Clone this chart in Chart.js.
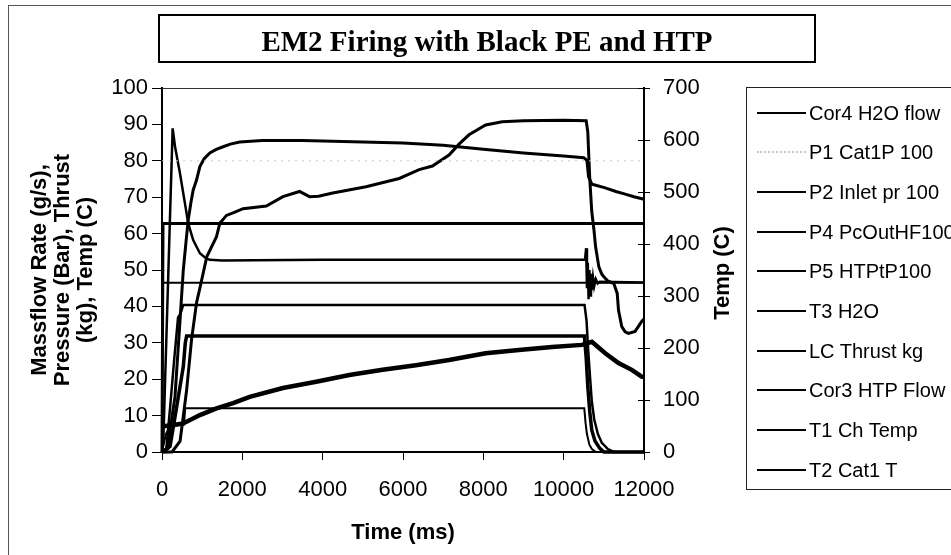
<!DOCTYPE html>
<html>
<head>
<meta charset="utf-8">
<title>EM2 Firing with Black PE and HTP</title>
<script src="https://cdn.jsdelivr.net/npm/chart.js@4.4.1/dist/chart.umd.min.js"></script>
<style>
  body { margin: 0; background: #fff; overflow: hidden; }
  #wrap { position: relative; width: 951px; height: 555px; overflow: hidden; font-family: 'Liberation Sans', Arial, sans-serif; color: #000; }
  #frame { position: absolute; left: 8px; top: 5px; width: 1200px; height: 800px; border: 1px solid #555; }
  #chart { position: absolute; left: 0; top: 0; }
  #title { position: absolute; left: 158px; top: 14px; width: 658px; height: 49px; box-sizing: border-box; border: 2px solid #000;
           font: bold 29px 'Liberation Serif', 'Times New Roman', serif; text-align: center; line-height: 50px; }
  #rightTitle { position: absolute; left: 622px; top: 260px; width: 200px; height: 26px; line-height: 26px; text-align: center;
                font-weight: bold; font-size: 22px; transform: rotate(-90deg); }
  #legend { position: absolute; left: 746px; top: 87px; width: 260px; height: 403px; box-sizing: border-box; border: 1px solid #222; background: #fff; }
  .row { position: absolute; left: 0; width: 250px; height: 26px; }
  .sample { position: absolute; left: 10px; top: 12px; width: 49px; height: 0; }
  .name { position: absolute; left: 62px; top: 0; line-height: 26px; font-size: 20px; white-space: nowrap; }
</style>
</head>
<body>
<div id="wrap">
  <div id="frame"></div>
  <canvas id="chart" width="951" height="555"></canvas>
  <div id="title">EM2 Firing with Black PE and HTP</div>
  <div id="rightTitle">Temp (C)</div>
  <div id="legend"></div>
</div>
<script>
// tick values
const timeTicks = [0, 2000, 4000, 6000, 8000, 10000, 12000];
const leftTicks = [0, 10, 20, 30, 40, 50, 60, 70, 80, 90, 100];
const tempTicks = [0, 100, 200, 300, 400, 500, 600, 700];

// Cor4 H2O flow (g/s)
const cor4Time = [0, 10, 6000, 12000];
const cor4Flow = [0, 46.5, 46.5, 46.5];

// P1 Cat1P 100 (faint trace)
const p1Time = [0, 12000];
const p1Pres = [80, 80];

// P2 Inlet pr 100
const p2Time = [0, 100, 200, 300, 400, 460, 530, 10520, 10570, 10610, 10660, 10700, 10760, 10850, 10950, 11100, 11250, 12000];
const p2Pres = [0, 0, 12, 25, 37, 38, 40.4, 40.4, 36, 28, 20, 14, 9, 5, 2.5, 0.8, 0, 0];

// P4 PcOutHF100
const p4Time = [0, 35, 265, 323, 447, 571, 653, 777, 943, 1100, 1191, 1500, 4000, 8000, 10530, 10560, 10580, 10600, 10620, 10640, 10660, 10680, 10700, 10730, 10760, 10800, 10850, 10900, 12000];
const p4Pres = [0, 4, 88.9, 84, 76.6, 68.3, 62.8, 58.2, 54.6, 53.2, 52.8, 52.6, 52.8, 52.8, 52.8, 56, 45, 52, 42, 50, 43, 49, 44.5, 48, 45.5, 47.5, 46.3, 46.8, 46.6];

// P5 HTPtP100
const p5Time = [0, 25, 12000];
const p5Pres = [0, 62.8, 62.8];

// T3 H2O (C)
const t3Time = [0, 530, 943, 1357, 1770, 2184, 3010, 3838, 4665, 5491, 6320, 7146, 8057, 8883, 9710, 10454, 10702, 11035, 11365, 11696, 11943, 12000];
const t3Temp = [49, 55, 71, 84, 94, 106, 123, 135, 148, 158, 167, 177, 190, 196, 202, 206, 212, 190, 171, 158, 145, 144];

// LC Thrust kg
const lcTime = [0, 200, 365, 530, 580, 613, 10515, 10560, 10600, 10650, 10700, 10780, 10900, 11000, 12000];
const lcThrust = [0, 1.5, 12.4, 23.4, 30, 31.9, 31.9, 26, 18, 11, 6, 3, 1, 0, 0];

// Cor3 HTP Flow (g/s)
const cor3Time = [0, 100, 200, 550, 575, 10513, 10545, 10578, 10640, 10702, 10800, 12000];
const cor3Flow = [0, 5, 7, 7.5, 12, 12, 8, 5, 2, 0.8, 0, 0];

// T1 Ch Temp (C)
const t1Time = [0, 250, 450, 613, 737, 860, 943, 1117, 1357, 1440, 1605, 1800, 2018, 2597, 3011, 3424, 3672, 3900, 4251, 5079, 5906, 6402, 6733, 7146, 7395, 7643, 8057, 8470, 9000, 10000, 10560, 10600, 10650, 10700, 10754, 10794, 10876, 10950, 11000, 11100, 11250, 11333, 11365, 11447, 11530, 11613, 11778, 11943, 12000];
const t1Temp = [0, 0, 21, 119, 217, 287, 315, 376, 414, 440, 455, 461, 468, 473, 491, 501, 491, 492, 498, 510, 526, 543, 550, 571, 592, 610, 629, 635, 637, 638, 637, 616, 525, 462, 427, 395, 356, 342, 337, 329, 324, 305, 273, 241, 231, 228, 232, 251, 256];

// T2 Cat1 T (C)
const t2Time = [0, 150, 200, 323, 405, 489, 530, 600, 653, 720, 777, 860, 943, 1050, 1191, 1350, 1522, 1700, 1935, 2500, 3500, 5000, 6000, 7000, 8000, 9000, 10000, 10500, 10578, 10620, 10702, 10800, 11035, 11300, 11531, 11750, 12000];
const t2Temp = [0, 7, 42, 106, 202, 301, 350, 406, 446, 480, 504, 523, 549, 564, 575, 582, 587, 592, 596, 599, 599, 596, 594, 590, 582, 575, 569, 566, 561, 529, 515, 513, 508, 501, 496, 491, 486];

const seriesList = [
  { label: 'Cor4 H2O flow',  time: cor4Time, values: cor4Flow, axis: 'y',  width: 2 },
  { label: 'P1 Cat1P 100',   time: p1Time,   values: p1Pres,   axis: 'y',  width: 1, color: '#c8c8c8', dash: [2, 5] },
  { label: 'P2 Inlet pr 100', time: p2Time,  values: p2Pres,   axis: 'y',  width: 2.5 },
  { label: 'P4 PcOutHF100',  time: p4Time,   values: p4Pres,   axis: 'y',  width: 2.5 },
  { label: 'P5 HTPtP100',    time: p5Time,   values: p5Pres,   axis: 'y',  width: 3 },
  { label: 'T3 H2O',         time: t3Time,   values: t3Temp,   axis: 'y1', width: 4.5 },
  { label: 'LC Thrust kg',   time: lcTime,   values: lcThrust, axis: 'y',  width: 3.5 },
  { label: 'Cor3 HTP Flow',  time: cor3Time, values: cor3Flow, axis: 'y',  width: 2 },
  { label: 'T1 Ch Temp',     time: t1Time,   values: t1Temp,   axis: 'y1', width: 3 },
  { label: 'T2 Cat1 T',      time: t2Time,   values: t2Temp,   axis: 'y1', width: 3 }
];

const FONT = "'Liberation Sans', Arial, sans-serif";
Chart.defaults.font.family = FONT;
Chart.defaults.color = '#000';

const datasets = seriesList.map(s => ({
  label: s.label,
  data: s.time.map((t, i) => ({ x: t, y: s.values[i] })),
  yAxisID: s.axis,
  borderColor: s.color || '#000',
  borderWidth: s.width,
  borderDash: s.dash || [],
  pointRadius: 0,
  tension: 0,
  fill: false,
  clip: 5
}));

// plot-area top edge and the inner half of the right axis ticks
const frameLines = {
  id: 'frameLines',
  afterDatasetsDraw(chart) {
    const { ctx, chartArea } = chart;
    const y1 = chart.scales.y1;
    ctx.save();
    ctx.strokeStyle = '#333';
    ctx.lineWidth = 1;
    ctx.beginPath();
    ctx.moveTo(chartArea.left, chartArea.top + 0.5);
    ctx.lineTo(chartArea.right, chartArea.top + 0.5);
    ctx.stroke();
    ctx.strokeStyle = '#000';
    ctx.beginPath();
    y1.ticks.forEach(t => {
      const py = Math.round(y1.getPixelForValue(t.value)) + 0.5;
      ctx.moveTo(chartArea.right - 6, py);
      ctx.lineTo(chartArea.right, py);
    });
    ctx.stroke();
    ctx.restore();
  }
};

function fixedTicks(list) {
  return scale => { scale.ticks = list.map(v => ({ value: v })); };
}

const axisBorder = { display: true, color: '#000', width: 2 };

const chart = new Chart(document.getElementById('chart').getContext('2d'), {
  type: 'line',
  data: { datasets: datasets },
  options: {
    responsive: false,
    animation: false,
    layout: { padding: { left: 0, top: 88, right: 227, bottom: 0 } },
    plugins: { legend: { display: false }, tooltip: { enabled: false } },
    scales: {
      x: {
        type: 'linear',
        position: 'bottom',
        min: 0, max: 12000,
        afterBuildTicks: fixedTicks(timeTicks),
        afterFit: s => { s.height = 103; },
        border: axisBorder,
        grid: { display: true, drawOnChartArea: false, drawTicks: true, tickLength: 8, color: '#000', lineWidth: 1 },
        ticks: { font: { size: 22 }, color: '#000', padding: 17, maxRotation: 0, autoSkip: false, callback: v => String(v) },
        title: { display: true, text: 'Time (ms)', color: '#000', font: { size: 22, weight: 'bold' }, padding: { top: 0, bottom: 9 } }
      },
      y: {
        type: 'linear',
        position: 'left',
        min: 0, max: 100,
        afterBuildTicks: fixedTicks(leftTicks),
        afterFit: s => { s.width = 162; },
        border: axisBorder,
        grid: { display: true, drawOnChartArea: false, drawTicks: true, tickLength: 10, color: '#000', lineWidth: 1 },
        ticks: { font: { size: 22 }, color: '#000', padding: 4, autoSkip: false, callback: v => String(v) },
        title: {
          display: true,
          text: ['Massflow Rate (g/s),', 'Pressure (Bar), Thrust', '(kg), Temp (C)'],
          color: '#000',
          font: { size: 22, weight: 'bold', lineHeight: 1.05 },
          padding: { top: 28, bottom: 0 }
        }
      },
      y1: {
        type: 'linear',
        position: 'right',
        min: 0, max: 700,
        afterBuildTicks: fixedTicks(tempTicks),
        afterFit: s => { s.width = 80; },
        border: axisBorder,
        grid: { display: true, drawOnChartArea: false, drawTicks: true, tickLength: 6, color: '#000', lineWidth: 1 },
        ticks: { font: { size: 22 }, color: '#000', padding: 13, autoSkip: false, callback: v => String(v) }
      }
    }
  },
  plugins: [frameLines]
});

// legend box built from the chart's datasets
const legendBox = document.getElementById('legend');
chart.data.datasets.forEach((ds, i) => {
  const row = document.createElement('div');
  row.className = 'row';
  row.style.top = (11.5 + i * 39.7) + 'px';
  const sample = document.createElement('div');
  sample.className = 'sample';
  sample.style.borderTop = (ds.borderDash.length ? '2px dotted ' : '2px solid ') + ds.borderColor;
  const name = document.createElement('div');
  name.className = 'name';
  name.textContent = ds.label;
  row.appendChild(sample);
  row.appendChild(name);
  legendBox.appendChild(row);
});
</script>
</body>
</html>
